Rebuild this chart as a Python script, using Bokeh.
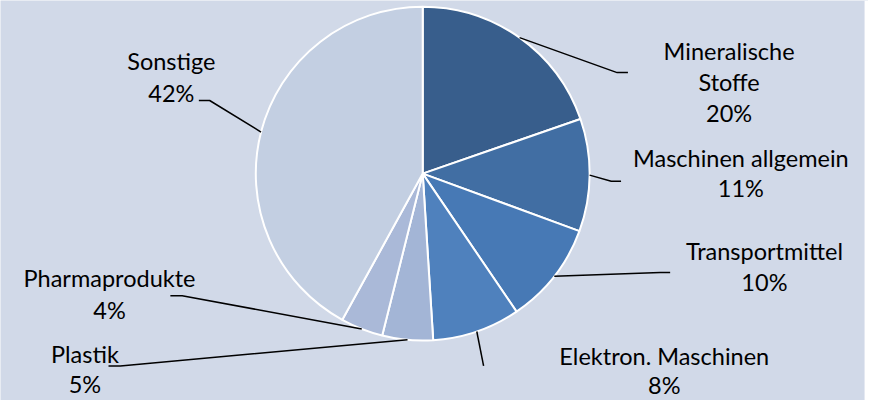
import numpy as np
from bokeh.plotting import figure
from bokeh.models import Range1d, ColumnDataSource
from bokeh.core.properties import value
from bokeh.embed import file_html
from bokeh.resources import INLINE

# ---- data ----
categories = ["Mineralische Stoffe", "Maschinen allgemein", "Transportmittel",
              "Elektron. Maschinen", "Plastik", "Pharmaprodukte", "Sonstige"]
shares = [19.7, 10.9, 9.9, 8.5, 4.9, 4.1, 42.0]
pct_labels = ["20%", "11%", "10%", "8%", "5%", "4%", "42%"]
name_lines = [["Mineralische", "Stoffe"], ["Maschinen allgemein"], ["Transportmittel"],
              ["Elektron. Maschinen"], ["Plastik"], ["Pharmaprodukte"], ["Sonstige"]]

# ---- style / layout (reference pixel space, y down) ----
colors = ["#385E8C", "#416EA3", "#4779B5", "#4F81BD", "#A3B5D6", "#AAB9D8", "#C3CFE2"]
BG = "#D1D9E8"
W_REF, H_REF = 884, 416
cx, cy, R = 430, 180, 170
label_x = [742, 754, 778, 676, 86, 111, 174]
label_y0 = [52, 164, 260, 370, 367.5, 288.5, 63]
pitch = [32.7, 31.5, 32.5, 30, 31.5, 33, 33.5]
elbow = [(628, 75), (622, 188), (672, 283), (492, 380), (122, 380), (185, 307), (213, 104)]
end = [(639, 75), (632, 188), (682, 283), (492, 380), (110, 380), (173, 307), (202, 104)]


def Y(y):
    return H_REF - y


p = figure(width=868, height=400, output_backend="svg", toolbar_location=None,
           x_range=Range1d(0, W_REF), y_range=Range1d(0, H_REF),
           x_axis_type=None, y_axis_type=None, min_border=0)
p.grid.visible = False
p.outline_line_color = None
p.background_fill_color = BG
p.border_fill_color = BG

# thin white strip at the right edge of the reference
p.quad(left=880, right=W_REF, bottom=0, top=H_REF, fill_color="white", line_color=None)

vals = np.array(shares, dtype=float)
frac = vals / vals.sum()
cum = np.concatenate([[0], np.cumsum(frac)])
start = np.pi / 2 - cum[:-1] * 2 * np.pi
stop = np.pi / 2 - cum[1:] * 2 * np.pi

src = ColumnDataSource(dict(start=start, stop=stop, color=colors, cat=categories))
p.wedge(x=cx, y=Y(cy), radius=R, start_angle="start", end_angle="stop",
        direction="clock", fill_color="color", line_color="white", line_width=2,
        source=src)

# leader lines from the slice mid-angle on the rim
sx = 868 / W_REF
sy = 400 / H_REF
mid = (start + stop) / 2
xs, ys = [], []
for i in range(len(categories)):
    ax = cx + R * np.cos(mid[i])
    ay = Y(cy) + R * np.sin(mid[i]) * sx / sy
    xs.append([ax, elbow[i][0], end[i][0]])
    ys.append([ay, Y(elbow[i][1]), Y(end[i][1])])
p.multi_line(xs=xs, ys=ys, line_color="black", line_width=1.5)

tx, ty, tt = [], [], []
for i in range(len(categories)):
    lines = name_lines[i] + [pct_labels[i]]
    for k, t in enumerate(lines):
        tx.append(label_x[i])
        ty.append(Y(label_y0[i] + k * pitch[i]))
        tt.append(t)
p.text(x=tx, y=ty, text=tt, text_align="center", text_baseline="middle",
       text_font=value("Lato"), text_font_size="23.5px", text_color="black")

open("out.html", "w").write(file_html(p, INLINE))
